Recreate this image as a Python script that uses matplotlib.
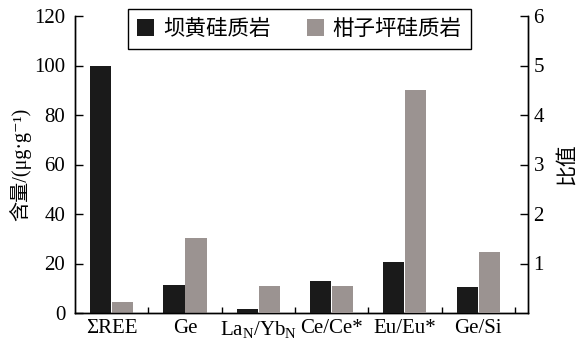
import numpy as np
import matplotlib
matplotlib.use('Agg')
import matplotlib.pyplot as plt
from matplotlib.patches import Patch

plt.rcParams['font.family'] = ['Liberation Serif', 'Noto Sans CJK SC', 'DejaVu Sans']
plt.rcParams['mathtext.fontset'] = 'custom'
plt.rcParams['mathtext.rm'] = 'Liberation Serif'
plt.rcParams['mathtext.it'] = 'Liberation Serif:italic'
plt.rcParams['axes.linewidth'] = 1.0

categories = ['ΣREE', 'Ge', 'La$_\\mathrm{N}$/Yb$_\\mathrm{N}$', 'Ce/Ce*', 'Eu/Eu*', 'Ge/Si']
series_names = ['坝黄硅质岩', '柑子坪硅质岩']

# ΣREE, Ge contents (μg/g) -> left axis
content_bahuang = [100, 11.5]
content_ganziping = [4.5, 30.5]
# LaN/YbN, Ce/Ce*, Eu/Eu*, Ge/Si ratios -> right axis
ratio_bahuang = [0.09, 0.65, 1.04, 0.52]
ratio_ganziping = [0.55, 0.545, 4.5, 1.23]

c_black = '#1a1a1a'
c_gray = '#9b9391'
w = 0.29
off = 0.15

fig = plt.figure(figsize=(5.76, 3.44), dpi=100)
ax = fig.add_axes([75/576, 1-313/344, (528-75)/576, (313-16)/344])
ax2 = ax.twinx()

x1 = np.arange(2)
x2 = np.arange(2, 6)
ax.bar(x1 - off, content_bahuang, w, color=c_black, zorder=3)
ax.bar(x1 + off, content_ganziping, w, color=c_gray, zorder=3)
ax2.bar(x2 - off, ratio_bahuang, w, color=c_black, zorder=3)
ax2.bar(x2 + off, ratio_ganziping, w, color=c_gray, zorder=3)

ax.set_xlim(-0.5, 5.68)
ax.set_ylim(0, 120)
ax2.set_ylim(0, 6)
ax.set_yticks(np.arange(0, 121, 20))
ax2.set_yticks(np.arange(1, 7, 1))

ax.set_xticks(np.arange(6))
ax.set_xticklabels(categories, fontsize=15)
ax.set_xticks(np.arange(0.5, 6, 1), minor=True)
ax.tick_params(axis='x', which='major', length=0, pad=4)
ax.tick_params(axis='x', which='minor', direction='in', length=4, width=1)
ax.tick_params(axis='y', direction='in', length=6, width=1, labelsize=15, pad=7)
ax2.tick_params(axis='y', direction='in', length=6, width=1, labelsize=15, pad=4)

for a in (ax, ax2):
    a.spines['top'].set_visible(False)

ax.set_ylabel('含量/(μg·g⁻¹)', fontsize=14.5, labelpad=2)
ax2.set_ylabel('比值', fontsize=15, family=['Noto Sans CJK SC'], labelpad=8)

handles = [Patch(facecolor=c_black, edgecolor='none'),
           Patch(facecolor=c_gray, edgecolor='none')]
leg = fig.legend(handles, series_names, loc='upper left',
                 bbox_to_anchor=(128/576, 1-9/344), ncol=2,
                 prop={'family': ['Noto Sans CJK SC'], 'size': 15.5},
                 frameon=True, fancybox=False, framealpha=1,
                 handlelength=0.8, handleheight=0.8, handletextpad=0.4,
                 columnspacing=1.7, borderpad=0.42, borderaxespad=0)
leg.get_frame().set_edgecolor('black')
leg.get_frame().set_linewidth(1.0)

fig.savefig('out.png', dpi=100)
